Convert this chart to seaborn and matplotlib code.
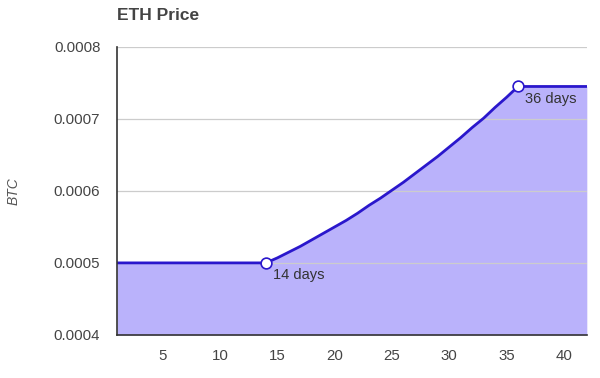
import matplotlib
matplotlib.use("Agg")
import matplotlib.pyplot as plt
import seaborn as sns
import pandas as pd

days = list(range(1, 43))
price = [0.0005] * 14 + [
    0.000507, 0.000515, 0.000523, 0.000532, 0.000541, 0.000550, 0.000559,
    0.000569, 0.000580, 0.000590, 0.000601, 0.000612, 0.000624, 0.000636,
    0.000648, 0.000661, 0.000674, 0.000688, 0.000701, 0.000716, 0.000730,
    0.000745] + [0.000745] * 6
marked_days = [14, 36]
marked_labels = ["14 days", "36 days"]
x_ticks = [5, 10, 15, 20, 25, 30, 35, 40]
y_ticks = [0.0004, 0.0005, 0.0006, 0.0007, 0.0008]

df = pd.DataFrame({"day": days, "price": price})

sns.set_style("white")
plt.rcParams["font.family"] = ["Liberation Sans", "DejaVu Sans"]

fig = plt.figure(figsize=(6, 3.78), dpi=100)
ax = fig.add_axes([0.195, 0.114, 0.783, 0.762])

line_c = "#2a17cc"
fill_c = "#bab2fb"

ax.fill_between(df["day"], 0.0004, df["price"], color=fill_c, lw=0, zorder=1)
for y in y_ticks[1:]:
    ax.axhline(y, color="#cccccc", lw=0.9, zorder=2)
sns.lineplot(data=df, x="day", y="price", ax=ax, color=line_c, lw=2, zorder=3)

mdf = df[df["day"].isin(marked_days)]
ax.scatter(mdf["day"], mdf["price"], s=60, facecolor="white", edgecolor=line_c,
           linewidth=1.2, zorder=4)
for d, lab in zip(marked_days, marked_labels):
    p = df.loc[df["day"] == d, "price"].iloc[0]
    ax.annotate(lab, (d, p), xytext=(5, -4), textcoords="offset points",
                ha="left", va="top", fontsize=10.5, color="#333333", zorder=5)

ax.set_xlim(1, 42)
ax.set_ylim(0.0004, 0.0008)
ax.set_xticks(x_ticks)
ax.set_yticks(y_ticks)
ax.set_yticklabels([f"{v:.4f}" for v in y_ticks])
ax.tick_params(axis="both", length=0, labelsize=10.8, labelcolor="#444444")
ax.tick_params(axis="x", pad=10)
ax.tick_params(axis="y", pad=12)
ax.set_xlabel("")
ax.set_ylabel("BTC", fontstyle="italic", color="#555555", fontsize=10)
ax.yaxis.set_label_coords(-0.205, 0.5)

for s in ["top", "right"]:
    ax.spines[s].set_visible(False)
for s in ["left", "bottom"]:
    ax.spines[s].set_color("#333333")
    ax.spines[s].set_linewidth(1.2)
    ax.spines[s].set_zorder(6)

fig.text(0.195, 0.958, "ETH Price", fontsize=12.5, fontweight="bold",
         color="#444444", ha="left", va="center")

fig.savefig("out.png", dpi=100)
